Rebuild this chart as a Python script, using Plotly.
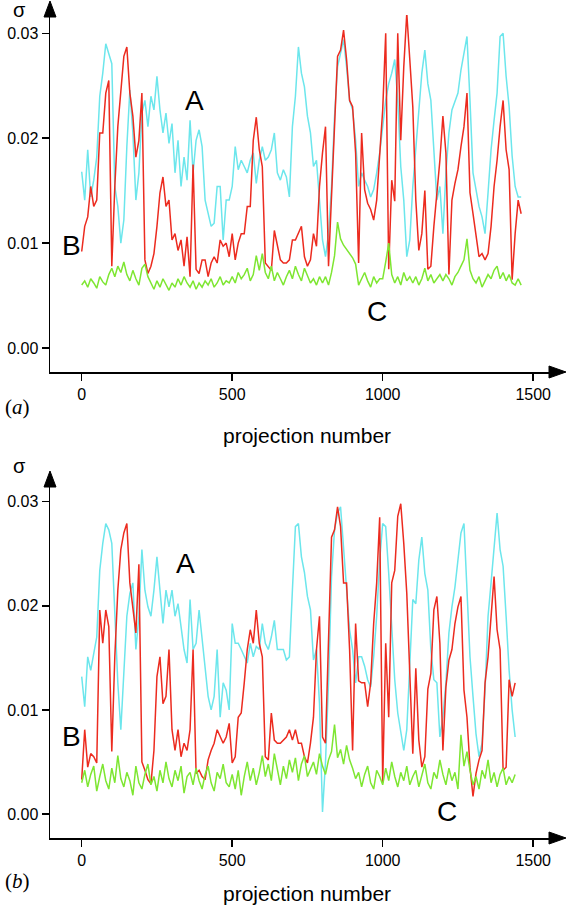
import plotly.graph_objects as go

# ---------------- data (sigma values in units of 0.001) ----------------
# panel (a): projection numbers 0..1460, sampled every 10 projections
proj_a = list(range(0, 1461, 10))
cyan_a = [16.8, 14.1, 18.9, 14.4, 16.0, 18.2, 24.0, 26.2, 29.0, 28.1,
          27.1, 15.4, 13.5, 10.0, 12.2, 19.2, 24.6, 20.5, 14.1, 16.7,
          22.4, 23.6, 21.1, 24.0, 22.7, 25.9, 22.7, 20.5, 22.4, 19.5,
          21.4, 16.7, 19.8, 15.4, 18.2, 16.0, 21.7, 16.7, 19.8, 20.8,
          19.2, 14.1, 12.8, 11.6, 11.9, 15.4, 15.4, 10.3, 14.1, 14.1,
          15.4, 19.2, 17.0, 17.9, 17.3, 16.7, 17.9, 18.6, 15.7, 17.9,
          19.2, 17.9, 18.2, 18.9, 20.5, 16.7, 16.0, 17.0, 16.3, 14.4,
          21.1, 24.0, 28.7, 26.2, 24.9, 22.1, 20.5, 17.3, 17.9, 14.1,
          10.3, 8.7, 10.9, 15.4, 22.1, 26.8, 28.1, 29.4, 26.8, 23.6,
          22.7, 19.8, 15.4, 16.7, 16.0, 15.4, 14.4, 15.1, 16.7, 18.6,
          21.1, 23.6, 25.2, 26.2, 27.5, 23.6, 17.3, 14.1, 8.7, 10.3,
          15.4, 18.9, 22.1, 26.2, 28.4, 25.2, 23.6, 18.6, 14.1, 15.4,
          10.9, 16.7, 20.5, 22.7, 23.6, 24.3, 26.5, 28.1, 29.7, 23.6,
          16.7, 15.1, 13.5, 12.5, 10.9, 14.8, 18.9, 21.7, 24.3, 29.7,
          30.0, 25.9, 23.0, 18.3, 15.4, 14.4, 14.4]
red_a = [9.2, 11.6, 12.5, 15.4, 13.5, 14.1, 20.5, 20.5, 24.3, 25.5,
         7.8, 15.4, 21.1, 24.9, 27.8, 28.7, 24.3, 22.1, 18.2, 19.8,
         24.3, 8.4, 7.1, 7.8, 9.0, 11.6, 14.8, 16.3, 13.5, 14.1,
         10.3, 10.9, 9.3, 10.3, 7.8, 10.6, 6.8, 17.5, 7.5, 7.1,
         8.4, 8.4, 6.8, 8.1, 8.7, 8.1, 10.3, 9.7, 10.0, 8.7,
         10.9, 8.4, 10.0, 10.9, 10.9, 13.5, 13.5, 19.8, 22.0, 18.9,
         17.3, 8.1, 7.8, 7.4, 11.2, 9.7, 8.4, 8.1, 8.1, 8.4,
         10.3, 10.3, 10.9, 11.6, 8.7, 7.8, 8.4, 10.9, 9.7, 15.4,
         18.6, 21.1, 7.8, 14.8, 22.0, 27.8, 28.4, 30.3, 27.5, 23.6,
         23.0, 18.6, 8.1, 20.5, 15.1, 13.8, 13.2, 12.2, 14.1, 18.9,
         22.7, 30.0, 7.5, 16.0, 14.0, 30.0, 19.8, 26.8, 31.9, 27.5,
         23.0, 14.1, 9.3, 10.9, 15.0, 7.5, 7.8, 11.6, 14.8, 17.9,
         22.1, 18.6, 7.0, 14.1, 15.7, 17.0, 19.2, 21.1, 24.3, 14.8,
         12.8, 10.9, 8.7, 9.0, 8.4, 9.0, 11.6, 15.4, 17.9, 21.1,
         23.6, 18.9, 17.0, 6.5, 10.9, 14.1, 12.8]
green_a = [6.0, 6.4, 5.8, 6.6, 6.2, 5.7, 6.8, 6.3, 6.0, 7.0,
           7.6, 6.8, 7.8, 7.2, 8.2, 7.0, 6.4, 7.4, 6.6, 6.0,
           7.6, 8.0, 6.8, 6.2, 5.6, 6.4, 5.8, 6.6, 6.0, 5.5,
           6.2, 5.8, 6.6, 6.0, 6.8, 6.2, 5.8, 6.4, 5.6, 6.2,
           5.8, 6.4, 6.0, 6.6, 5.8, 6.2, 6.8, 6.0, 6.4, 6.2,
           6.8, 6.2, 7.2, 6.6, 7.0, 7.6, 6.4, 7.0, 8.8, 7.4,
           9.0, 7.2, 6.6, 7.8, 6.4, 7.2, 6.6, 6.0, 6.8, 7.4,
           6.6, 7.8, 7.0, 6.4, 7.6, 6.8, 6.2, 6.6, 6.0, 6.8,
           6.2, 6.8, 6.0, 7.2, 8.8, 12.0, 10.4, 9.8, 9.4, 9.0,
           8.6, 8.0, 6.0, 6.6, 7.2, 6.4, 5.8, 6.8, 6.2, 6.6,
           6.6, 8.2, 10.0, 7.0, 6.2, 6.8, 6.0, 7.2, 6.4, 6.8,
           6.2, 6.8, 6.0, 6.6, 7.6, 6.4, 7.0, 6.2, 6.6, 7.0,
           6.4, 7.0, 6.6, 6.0, 6.8, 7.2, 7.8, 8.4, 10.4, 7.4,
           6.6, 6.2, 6.8, 5.8, 6.4, 7.0, 6.6, 7.4, 7.8, 6.6,
           7.2, 6.4, 7.0, 6.2, 6.0, 6.6, 6.0]

# panel (b): projection numbers 0..1440, sampled every 10 projections
proj_b = list(range(0, 1441, 10))
cyan_b = [13.2, 10.3, 15.1, 13.8, 15.4, 17.0, 23.4, 26.0, 27.9, 27.3,
          26.0, 19.0, 12.6, 8.1, 13.2, 19.0, 21.2, 22.2, 15.8, 19.0,
          25.4, 21.5, 19.9, 19.0, 21.5, 24.7, 21.5, 18.3, 21.5, 19.9,
          21.5, 19.0, 20.2, 17.7, 15.8, 14.5, 20.6, 15.8, 16.4, 19.6,
          17.0, 13.8, 11.3, 10.0, 11.3, 15.8, 9.3, 12.6, 11.9, 10.0,
          18.3, 16.4, 16.4, 15.8, 15.1, 14.5, 16.4, 15.1, 16.1, 15.8,
          18.3, 16.4, 15.8, 17.0, 18.6, 15.8, 15.8, 15.8, 14.8, 15.1,
          21.5, 27.6, 27.9, 24.7, 23.2, 20.9, 19.6, 14.8, 15.8, 10.6,
          0.2, 5.0, 12.6, 22.8, 27.3, 28.9, 29.5, 25.4, 21.5, 17.7,
          15.8, 12.6, 15.1, 15.1, 14.2, 12.9, 12.2, 15.1, 19.0, 24.4,
          27.9, 27.6, 23.1, 18.3, 12.9, 9.7, 7.7, 6.1, 8.1, 15.1,
          20.6, 20.2, 24.4, 26.6, 23.1, 21.5, 15.8, 12.9, 12.6, 7.4,
          9.3, 12.6, 17.4, 19.9, 21.8, 24.4, 27.0, 27.9, 20.9, 15.1,
          11.3, 7.7, 5.5, 6.8, 11.9, 19.0, 22.2, 26.0, 28.9, 25.4,
          23.8, 19.0, 13.8, 10.0, 7.4]
red_b = [3.3, 8.1, 4.5, 5.8, 5.5, 4.9, 19.6, 16.4, 19.6, 18.0,
         6.0, 15.1, 21.5, 25.4, 27.0, 27.9, 22.2, 19.6, 17.4, 24.0,
         5.0, 4.2, 3.3, 2.9, 6.1, 13.2, 15.1, 10.6, 11.3, 15.8,
         8.1, 6.1, 8.1, 5.5, 6.8, 6.1, 8.1, 15.8, 3.9, 4.2,
         3.6, 3.3, 5.2, 6.1, 6.8, 8.1, 7.4, 6.8, 7.4, 8.7,
         4.9, 5.5, 9.3, 9.7, 12.6, 15.8, 17.7, 16.4, 19.6, 16.4,
         15.1, 5.5, 5.2, 9.7, 7.1, 6.8, 6.8, 7.1, 7.4, 8.1,
         7.1, 8.1, 6.8, 6.8, 5.5, 4.9, 6.8, 9.3, 15.8, 19.0,
         7.4, 6.8, 15.8, 26.6, 27.3, 29.5, 27.6, 22.2, 22.2, 15.8,
         6.1, 18.3, 12.8, 12.6, 12.6, 10.3, 12.6, 18.3, 22.2, 28.5,
         3.0, 16.4, 9.3, 22.2, 23.4, 28.6, 29.8, 26.0, 21.2, 13.0,
         5.8, 14.0, 7.1, 4.5, 5.5, 12.0, 13.5, 19.6, 20.9, 16.4,
         6.1, 12.2, 14.8, 15.8, 18.3, 19.9, 20.9, 11.9, 9.3, 4.5,
         1.7, 3.9, 5.2, 6.1, 12.6, 15.1, 18.6, 22.8, 17.7, 15.8,
         4.2, 4.5, 12.9, 11.3, 12.6]
green_b = [3.0, 4.2, 2.6, 3.8, 4.6, 2.2, 3.6, 4.8, 3.2, 2.4,
           4.4, 3.0, 5.6, 3.4, 2.6, 4.0, 3.2, 1.8, 4.6, 3.0,
           2.4, 3.8, 4.8, 2.8, 3.6, 2.2, 4.2, 3.0, 5.0, 3.4,
           2.6, 4.2, 3.2, 4.6, 2.0, 3.6, 4.0, 2.8, 4.4, 3.2,
           2.4, 3.8, 4.6, 3.0, 2.2, 4.0, 3.4, 4.8, 3.0, 2.6,
           3.8, 2.4, 4.2, 1.8, 3.6, 5.0, 3.2, 4.4, 2.8, 4.0,
           5.6, 3.6, 4.8, 3.2, 5.8, 4.2, 2.8, 4.6, 3.4, 5.2,
           4.0, 5.4, 3.2, 4.8, 5.6, 3.6, 4.4, 5.0, 3.8, 5.8,
           4.6, 3.8, 5.2, 6.0, 8.6, 5.4, 6.2, 4.8, 6.6, 5.2,
           4.4, 3.4, 4.0, 2.6, 3.8, 4.6, 3.0, 2.4, 4.2, 3.6,
           2.8, 4.4, 3.2, 5.0, 3.6, 2.6, 4.0, 3.2, 4.6, 2.8,
           3.6, 4.2, 2.6, 3.8, 4.8, 3.0, 2.4, 4.0, 3.4, 5.2,
           3.8, 2.8, 4.4, 3.2, 4.0, 2.4, 7.6, 4.6, 6.0, 4.2,
           2.8, 3.6, 2.4, 4.2, 3.4, 5.2, 3.0, 4.0, 2.6, 3.8,
           4.4, 2.8, 3.6, 3.0, 3.8]

x_ticks = [0, 500, 1000, 1500]
y_ticks = [0.00, 0.01, 0.02, 0.03]
y_ticktext = ["0.00", "0.01", "0.02", "0.03"]
x_title = "projection number"
series_labels = ["A", "B", "C"]

# ---------------- styling / layout ----------------
W, H = 567, 911
CYAN, RED, GREEN = "#6ce6ec", "#ec2b1f", "#7ee632"
SANS = "Liberation Sans, Arial, sans-serif"
SERIF = "Liberation Serif, Times New Roman, serif"


def fx(x):
    return x / W


def fy(y):
    return 1 - y / H


fig = go.Figure()


def add_panel(proj, cy, rd, gr, xa, ya):
    for vals, col in ((cy, CYAN), (rd, RED), (gr, GREEN)):
        fig.add_trace(go.Scatter(
            x=proj, y=[v / 1000 for v in vals], xaxis=xa, yaxis=ya,
            mode="lines", line=dict(color=col, width=1.5),
            showlegend=False, hoverinfo="skip"))


add_panel(proj_a, cyan_a, red_a, green_a, "x", "y")
add_panel(proj_b, cyan_b, red_b, green_b, "x2", "y2")

x_left, x_right = 50, 552
x0_px, x_scale = 81.7, 0.301
xrange = [(x_left - x0_px) / x_scale, (x_right - x0_px) / x_scale]

axis_common = dict(showline=True, linecolor="black", linewidth=1.5,
                   ticks="outside", ticklen=7, tickwidth=1.5, tickcolor="black",
                   showgrid=False, zeroline=False,
                   tickfont=dict(family=SANS, size=16, color="black"))

# panel geometry in pixels: (axis bottom, axis top, y of 0.00, px per 0.01)
panels = [
    dict(bottom=372, top=15, zero=348.0, per=104.9, xa="xaxis", ya="yaxis",
         yref="y", xref="x"),
    dict(bottom=838, top=485, zero=814.0, per=104.1, xa="xaxis2", ya="yaxis2",
         yref="y2", xref="x2"),
]

layout = dict(width=W, height=H, margin=dict(l=0, r=0, t=0, b=0),
              paper_bgcolor="white", plot_bgcolor="white", showlegend=False)

shapes = []
for p in panels:
    yr = [(p["zero"] - p["bottom"]) / p["per"] * 0.01,
          (p["zero"] - p["top"]) / p["per"] * 0.01]
    layout[p["xa"]] = dict(domain=[fx(x_left), fx(x_right)], range=xrange,
                           anchor=p["yref"], tickvals=x_ticks, **axis_common)
    layout[p["ya"]] = dict(domain=[fy(p["bottom"]), fy(p["top"])], range=yr,
                           anchor=p["xref"], tickvals=y_ticks,
                           ticktext=y_ticktext, **axis_common)
    b, t = p["bottom"], p["top"]
    # arrow heads
    shapes.append(dict(type="path", xref="paper", yref="paper",
                       path=f"M {fx(x_right-3)},{fy(b-6)} L {fx(566)},{fy(b)} L {fx(x_right-3)},{fy(b+6)} Z",
                       fillcolor="black", line=dict(color="black", width=1)))
    shapes.append(dict(type="path", xref="paper", yref="paper",
                       path=f"M {fx(x_left-6)},{fy(t+2)} L {fx(x_left)},{fy(t-14)} L {fx(x_left+6)},{fy(t+2)} Z",
                       fillcolor="black", line=dict(color="black", width=1)))

layout["shapes"] = shapes

ann = []


def text(x, y, s, size, family=SANS):
    ann.append(dict(x=fx(x), y=fy(y), xref="paper", yref="paper", text=s,
                    showarrow=False, xanchor="center", yanchor="middle",
                    font=dict(family=family, size=size, color="black")))


# panel (a)
text(19, 10, "σ", 20)
text(194, 101, series_labels[0], 28)
text(71, 245, series_labels[1], 28)
text(377, 311, series_labels[2], 28)
text(17, 407, "(<i>a</i>)", 21, SERIF)
text(307, 435, x_title, 21)
# panel (b)
text(19, 466, "σ", 20)
text(185, 563, series_labels[0], 28)
text(71, 736, series_labels[1], 28)
text(447, 811, series_labels[2], 28)
text(17, 881, "(<i>b</i>)", 21, SERIF)
text(307, 893, x_title, 21)

layout["annotations"] = ann
fig.update_layout(**layout)
fig.write_html("out.html",
               config={"displayModeBar": False, "staticPlot": True},
               post_script="document.body.style.margin='0px';"
                           "document.body.style.overflow='hidden';")
